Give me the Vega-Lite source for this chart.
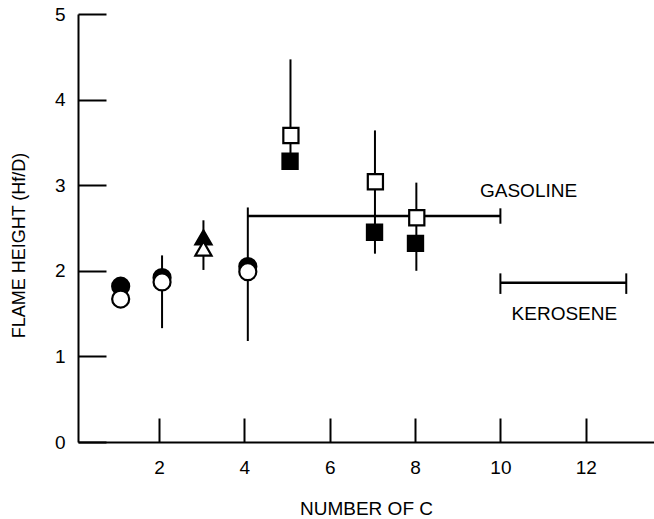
{
  "$schema": "https://vega.github.io/schema/vega-lite/v6.json",
  "width": 576,
  "height": 428,
  "autosize": {"type": "none"},
  "padding": {"left": 78, "top": 14, "right": 0, "bottom": 77},
  "config": {
    "view": {"stroke": null},
    "font": "Liberation Sans",
    "axis": {"grid": false, "domainColor": "black", "tickColor": "black", "labelColor": "black", "titleColor": "black", "domainWidth": 2, "tickWidth": 2, "titleFontWeight": "normal"}
  },
  "datasets": {
    "vrules": [
      {"x": 2.07, "lo": 1.33, "hi": 2.18},
      {"x": 3.04, "lo": 2.01, "hi": 2.59},
      {"x": 4.08, "lo": 1.18, "hi": 2.74},
      {"x": 5.08, "lo": 3.28, "hi": 4.47},
      {"x": 7.06, "lo": 2.2, "hi": 3.64},
      {"x": 8.03, "lo": 2.0, "hi": 3.03},
      {"x": 10.0, "lo": 2.55, "hi": 2.73},
      {"x": 10.0, "lo": 1.73, "hi": 1.97},
      {"x": 12.95, "lo": 1.73, "hi": 1.97}
    ],
    "ranges": [
      {"name": "GASOLINE", "x": 4.08, "x2": 10.0, "y": 2.64},
      {"name": "KEROSENE", "x": 10.0, "x2": 12.95, "y": 1.86}
    ],
    "points": [
      {"c": 1.1, "h": 1.82, "marker": "circle", "kind": "filled"},
      {"c": 2.07, "h": 1.92, "marker": "circle", "kind": "filled"},
      {"c": 4.08, "h": 2.05, "marker": "circle", "kind": "filled"},
      {"c": 3.04, "h": 2.39, "marker": "triangle", "kind": "filled"},
      {"c": 5.07, "h": 3.28, "marker": "square", "kind": "filled"},
      {"c": 7.05, "h": 2.45, "marker": "square", "kind": "filled"},
      {"c": 8.01, "h": 2.32, "marker": "square", "kind": "filled"},
      {"c": 1.1, "h": 1.67, "marker": "circle", "kind": "open"},
      {"c": 2.07, "h": 1.87, "marker": "circle", "kind": "open"},
      {"c": 4.08, "h": 1.99, "marker": "circle", "kind": "open"},
      {"c": 3.04, "h": 2.26, "marker": "triangle", "kind": "open"},
      {"c": 5.09, "h": 3.58, "marker": "square", "kind": "open"},
      {"c": 7.07, "h": 3.04, "marker": "square", "kind": "open"},
      {"c": 8.04, "h": 2.62, "marker": "square", "kind": "open"}
    ],
    "labels": [
      {"x": 10.66, "y": 2.93, "label": "GASOLINE"},
      {"x": 11.5, "y": 1.5, "label": "KEROSENE"}
    ]
  },
  "layer": [
    {
      "data": {"name": "vrules"},
      "mark": {"type": "rule", "color": "black", "strokeWidth": 2},
      "encoding": {
        "x": {"field": "x", "type": "quantitative", "scale": {"domain": [0.1, 13.6], "nice": false, "zero": false},
          "axis": {"values": [2, 4, 6, 8, 10, 12], "format": "d", "tickSize": -24, "labelFontSize": 19, "labelPadding": 40, "title": "NUMBER OF C", "titleFontSize": 19, "titlePadding": 22}},
        "y": {"field": "lo", "type": "quantitative", "scale": {"domain": [0, 5], "nice": false},
          "axis": {"values": [0, 1, 2, 3, 4, 5], "format": "d", "tickSize": -28, "labelFontSize": 19, "labelPadding": 41, "title": "FLAME HEIGHT (Hf/D)", "titleFontSize": 18, "titleX": -50, "titleY": 231}},
        "y2": {"field": "hi"}
      }
    },
    {
      "data": {"name": "ranges"},
      "mark": {"type": "rule", "color": "black", "strokeWidth": 2.5},
      "encoding": {
        "x": {"field": "x", "type": "quantitative"},
        "x2": {"field": "x2"},
        "y": {"field": "y", "type": "quantitative"}
      }
    },
    {
      "data": {"name": "points"},
      "mark": {"type": "point", "stroke": "black", "strokeWidth": 2.2, "opacity": 1, "fillOpacity": 1},
      "encoding": {
        "x": {"field": "c", "type": "quantitative"},
        "y": {"field": "h", "type": "quantitative"},
        "shape": {"field": "marker", "type": "nominal", "scale": {"domain": ["circle", "triangle", "square"], "range": ["circle", "triangle-up", "square"]}, "legend": null},
        "size": {"field": "marker", "type": "nominal", "scale": {"domain": ["circle", "triangle", "square"], "range": [290, 230, 340]}, "legend": null},
        "fill": {"field": "kind", "type": "nominal", "scale": {"domain": ["filled", "open"], "range": ["black", "white"]}, "legend": null}
      }
    },
    {
      "data": {"name": "labels"},
      "mark": {"type": "text", "fontSize": 19, "color": "black", "align": "center", "baseline": "middle"},
      "encoding": {
        "x": {"field": "x", "type": "quantitative"},
        "y": {"field": "y", "type": "quantitative"},
        "text": {"field": "label"}
      }
    }
  ]
}
